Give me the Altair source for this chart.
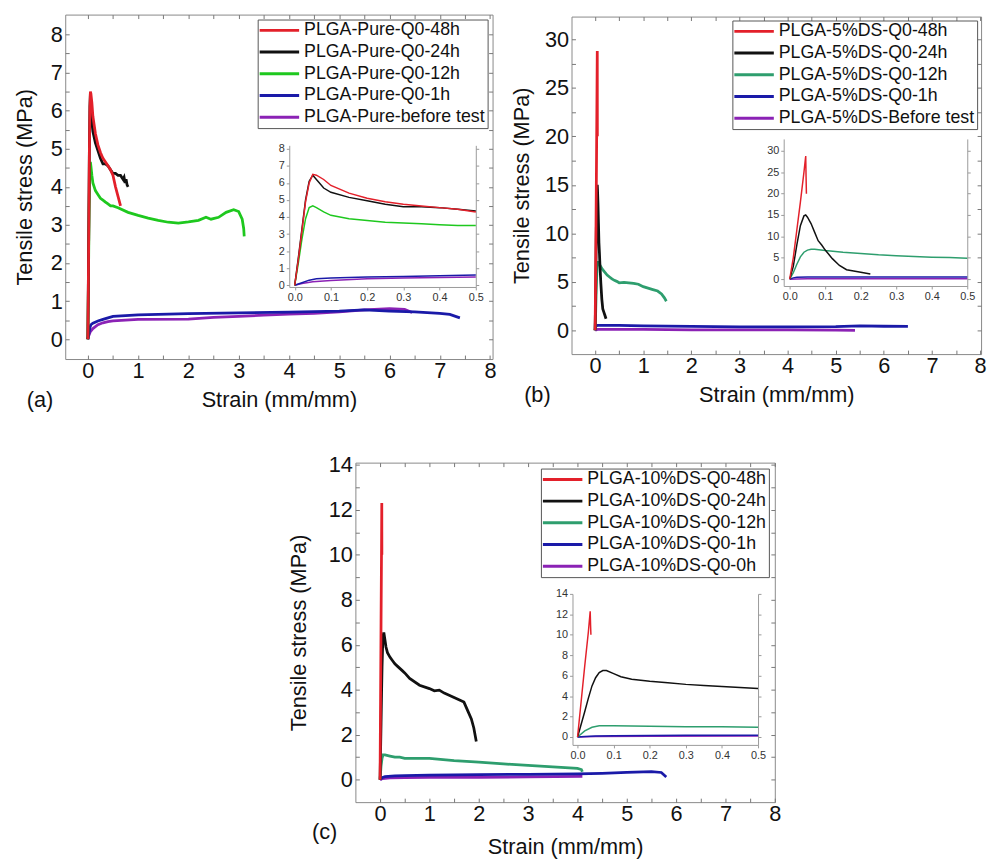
import altair as alt
import pandas as pd

FONT = "Liberation Sans"

# ---------------- Panel (a) ----------------
A_LABELS = ["PLGA-Pure-Q0-48h", "PLGA-Pure-Q0-24h", "PLGA-Pure-Q0-12h",
            "PLGA-Pure-Q0-1h", "PLGA-Pure-before test"]
A_COLORS = ["#e3202a", "#111111", "#1ec81e", "#1a1aa8", "#8b22b5"]

A48_X = [0, 0.01, 0.02, 0.03, 0.04, 0.05, 0.06, 0.08, 0.1, 0.15, 0.2, 0.25, 0.3,
         0.35, 0.4, 0.45, 0.5, 0.55, 0.6, 0.65]
A48_Y = [0, 1.5, 3.2, 4.9, 6.0, 6.5, 6.45, 6.2, 5.85, 5.4, 5.1, 4.9, 4.75,
         4.65, 4.55, 4.45, 4.3, 4.0, 3.75, 3.5]
A24_X = [0, 0.01, 0.02, 0.03, 0.04, 0.05, 0.06, 0.08, 0.1, 0.15, 0.2, 0.25, 0.3,
         0.35, 0.4, 0.45, 0.5, 0.55, 0.6, 0.65, 0.7, 0.72, 0.74, 0.76, 0.78, 0.8]
A24_Y = [0, 1.6, 3.3, 5.0, 6.1, 6.45, 6.2, 5.7, 5.45, 5.15, 4.95, 4.75, 4.6,
         4.6, 4.55, 4.45, 4.35, 4.35, 4.3, 4.3, 4.2, 4.25, 4.1, 4.2, 4.05, 4.0]
A12_X = [0, 0.01, 0.02, 0.03, 0.04, 0.05, 0.06, 0.08, 0.1, 0.15, 0.2, 0.25, 0.3,
         0.35, 0.4, 0.45, 0.5, 0.6, 0.8, 1.0, 1.2, 1.4, 1.6, 1.8, 2.0, 2.2, 2.35,
         2.45, 2.6, 2.75, 2.9, 3.0, 3.07, 3.1, 3.11]
A12_Y = [0, 1.3, 2.7, 3.9, 4.55, 4.65, 4.55, 4.3, 4.1, 3.9, 3.8, 3.7, 3.65,
         3.6, 3.55, 3.5, 3.5, 3.45, 3.33, 3.25, 3.18, 3.12, 3.07, 3.05, 3.08, 3.12, 3.2,
         3.15, 3.2, 3.33, 3.4, 3.35, 3.15, 2.9, 2.7]
A1_X = [0, 0.02, 0.04, 0.06, 0.1, 0.2, 0.3, 0.4, 0.5, 1.0, 2.0, 3.0, 4.0, 5.0,
        5.5, 6.0, 6.5, 7.0, 7.2, 7.4]
A1_Y = [0, 0.15, 0.3, 0.38, 0.42, 0.48, 0.52, 0.56, 0.6, 0.64, 0.67, 0.69, 0.71,
        0.74, 0.77, 0.74, 0.72, 0.68, 0.65, 0.56]
A0_X = [0, 0.02, 0.05, 0.1, 0.2, 0.3, 0.4, 0.5, 1.0, 2.0, 2.5, 3.0, 3.5, 4.0,
        4.5, 5.0, 5.5, 6.0, 6.3, 6.45]
A0_Y = [0, 0.1, 0.2, 0.28, 0.38, 0.43, 0.46, 0.48, 0.52, 0.53, 0.57, 0.6, 0.63,
        0.66, 0.68, 0.72, 0.77, 0.8, 0.78, 0.7]

# ---------------- Panel (b) ----------------
B_LABELS = ["PLGA-5%DS-Q0-48h", "PLGA-5%DS-Q0-24h", "PLGA-5%DS-Q0-12h",
            "PLGA-5%DS-Q0-1h", "PLGA-5%DS-Before test"]
B_COLORS = ["#e3202a", "#111111", "#2e9e6e", "#1a1aa8", "#8b22b5"]

B48_X = [0, 0.01, 0.02, 0.03, 0.04, 0.045, 0.046, 0.047]
B48_Y = [0, 5, 11.5, 18, 25, 28.8, 24, 20]
B24_X = [0, 0.01, 0.02, 0.03, 0.04, 0.045, 0.05, 0.06, 0.07, 0.08, 0.09, 0.1,
         0.12, 0.14, 0.16, 0.18, 0.2, 0.227]
B24_Y = [0, 3, 8, 12.5, 14.8, 15.0, 14.5, 13, 11, 9, 8, 6.8,
         4.8, 3.2, 2.2, 1.9, 1.6, 1.2]
B12_X = [0, 0.01, 0.02, 0.03, 0.04, 0.05, 0.06, 0.07, 0.1, 0.15, 0.2, 0.25, 0.3,
         0.35, 0.4, 0.45, 0.5, 0.6, 0.7, 0.8, 0.9, 1.0, 1.1, 1.2, 1.3, 1.38, 1.44, 1.48]
B12_Y = [0, 1.5, 3.5, 5.2, 6.3, 6.8, 7.0, 7.0, 6.7, 6.3, 6.0, 5.7, 5.5,
         5.3, 5.15, 5.05, 4.9, 4.95, 4.9, 4.85, 4.75, 4.5, 4.35, 4.2, 4.05, 3.75, 3.35, 3.0]
B1_X = [0, 0.01, 0.02, 0.05, 0.5, 1.0, 2.0, 3.0, 4.0, 5.0, 5.5, 6.0, 6.5]
B1_Y = [0, 0.3, 0.45, 0.5, 0.5, 0.45, 0.4, 0.35, 0.35, 0.38, 0.45, 0.42, 0.4]
B0_X = [0, 0.02, 0.05, 0.5, 1.0, 2.0, 3.0, 4.0, 5.0, 5.4]
B0_Y = [0, 0.05, 0.1, 0.1, 0.1, 0.05, 0.05, 0.05, 0.03, 0.0]

# ---------------- Panel (c) ----------------
C_LABELS = ["PLGA-10%DS-Q0-48h", "PLGA-10%DS-Q0-24h", "PLGA-10%DS-Q0-12h",
            "PLGA-10%DS-Q0-1h", "PLGA-10%DS-Q0-0h"]
C_COLORS = ["#e3202a", "#111111", "#2e9e6e", "#1a1aa8", "#8b22b5"]

C48_X = [0, 0.01, 0.02, 0.03, 0.035, 0.036, 0.037]
C48_Y = [0, 3.5, 7, 10.3, 12.3, 11, 10]
C24_X = [0, 0.02, 0.03, 0.04, 0.05, 0.06, 0.07, 0.08, 0.1, 0.12, 0.15, 0.2, 0.25,
         0.3, 0.35, 0.4, 0.45, 0.5, 0.6, 0.8, 1.0, 1.1, 1.2, 1.3, 1.4, 1.5, 1.6,
         1.7, 1.78, 1.85, 1.9, 1.95]
C24_Y = [0, 2.5, 3.8, 5.0, 5.8, 6.3, 6.5, 6.5, 6.2, 5.9, 5.65, 5.45, 5.3,
         5.15, 5.05, 4.95, 4.85, 4.75, 4.5, 4.2, 4.05, 3.95, 3.98, 3.85, 3.75, 3.65, 3.55,
         3.45, 3.05, 2.7, 2.3, 1.7]
C12_X = [0, 0.02, 0.04, 0.06, 0.1, 0.2, 0.3, 0.4, 0.5, 1.0, 1.5, 2.0, 2.5, 3.0,
         3.5, 4.0, 4.08, 4.1]
C12_Y = [0, 0.6, 0.95, 1.1, 1.1, 1.05, 1.0, 1.0, 0.95, 0.95, 0.85, 0.78, 0.7, 0.63,
         0.57, 0.5, 0.45, 0.35]
C1_X = [0, 0.02, 0.05, 0.1, 0.3, 0.5, 1.0, 2.0, 3.0, 4.0, 4.5, 5.0, 5.5, 5.7, 5.8]
C1_Y = [0, 0.05, 0.1, 0.13, 0.17, 0.18, 0.2, 0.22, 0.24, 0.26, 0.28, 0.32, 0.36, 0.32, 0.12]
C0_X = [0, 0.05, 0.2, 0.5, 1.0, 2.0, 3.0, 4.1]
C0_Y = [0, 0.05, 0.08, 0.09, 0.1, 0.1, 0.12, 0.15]

# minor (frame) tick positions
X_FRAME_TICKS = [0, 0.5, 1, 1.5, 2, 2.5, 3, 3.5, 4, 4.5, 5, 5.5, 6, 6.5, 7, 7.5, 8]
A_FRAME_YTICKS = [0, 0.5, 1, 1.5, 2, 2.5, 3, 3.5, 4, 4.5, 5, 5.5, 6, 6.5, 7, 7.5, 8]
B_FRAME_YTICKS = [0, 2.5, 5, 7.5, 10, 12.5, 15, 17.5, 20, 22.5, 25, 27.5, 30]
C_FRAME_YTICKS = [0, 1, 2, 3, 4, 5, 6, 7, 8, 9, 10, 11, 12, 13, 14]


def build_df(labels, xs_list, ys_list):
    frames = []
    for lab, xs, ys in zip(labels, xs_list, ys_list):
        frames.append(pd.DataFrame({"series": lab, "strain": xs, "stress": ys,
                                    "idx": list(range(len(xs)))}))
    # draw order: last legend entry first, first entry (red) on top
    return pd.concat(frames[::-1], ignore_index=True)


def legend_for(offset):
    return alt.Legend(title=None, orient="top-right", offset=offset,
                      symbolType="M-1.8,0H6.2", symbolSize=100, symbolStrokeWidth=3,
                      labelFont=FONT, labelFontSize=18, labelColor="#111",
                      labelOffset=27, padding=2, rowPadding=4,
                      strokeColor="#555", fillColor="white", labelLimit=400)


def inset_axis_common():
    return dict(grid=False, labelFontSize=11, labelColor="#333", domainColor="#999",
                tickColor="#999", tickSize=3, labelPadding=2, title=None)


def frame_tick_axis(orient, values):
    # axis drawn 4px inside the frame with outward ticks -> inward-looking frame ticks
    return alt.Axis(orient=orient, offset=-4, values=values, labels=False,
                    domain=False, grid=False, ticks=True, tickSize=4,
                    tickColor="#777", title=None)


def panel(df, labels, colors, W, H, xdom, ydom, yvals, yframe, ins, tag, tag_dx,
          tag_dy, leg_off, ytp, xtp):
    color = alt.Color("series:N", scale=alt.Scale(domain=labels, range=colors),
                      legend=legend_for(leg_off))
    xs_main = alt.Scale(domain=xdom, nice=False, zero=False)
    ys_main = alt.Scale(domain=ydom, nice=False, zero=False)

    ticks_bl = alt.Chart(df).mark_line(opacity=0).encode(
        x=alt.X("strain:Q", scale=xs_main, axis=frame_tick_axis("bottom", X_FRAME_TICKS)),
        y=alt.Y("stress:Q", scale=ys_main, axis=frame_tick_axis("left", yframe)),
    )
    ticks_tr = alt.Chart(df).mark_line(opacity=0).encode(
        x=alt.X("strain:Q", scale=xs_main, axis=frame_tick_axis("top", X_FRAME_TICKS)),
        y=alt.Y("stress:Q", scale=ys_main, axis=frame_tick_axis("right", yframe)),
    )
    main = alt.Chart(df).mark_line(strokeWidth=2.8, clip=True).encode(
        x=alt.X("strain:Q", scale=xs_main,
                axis=alt.Axis(values=list(range(0, 9)), title="Strain (mm/mm)",
                              grid=False, domain=False, ticks=False, labelFontSize=22,
                              titleFontSize=22, labelPadding=2, titlePadding=xtp,
                              labelFlush=False, format="d")),
        y=alt.Y("stress:Q", scale=ys_main,
                axis=alt.Axis(values=yvals, title="Tensile stress (MPa)", grid=False,
                              domain=False, ticks=False, labelFontSize=22,
                              titleFontSize=22, labelPadding=3, titlePadding=ytp,
                              format="d")),
        color=color,
        order="idx:Q",
    )
    inset_base = alt.Chart(df).transform_filter(alt.datum.strain <= 0.5)
    xs_ins = alt.Scale(domain=ins["xdom"], range=ins["xrange"], nice=False, zero=False)
    ys_ins = alt.Scale(domain=ins["ydom"], range=ins["yrange"], nice=False, zero=False)
    inset = inset_base.mark_line(strokeWidth=1.5).encode(
        x=alt.X("strain:Q", scale=xs_ins,
                axis=alt.Axis(orient="bottom", offset=ins["xoff"],
                              values=[0, 0.1, 0.2, 0.3, 0.4, 0.5], format=".1f",
                              labelFlush=False, **inset_axis_common())),
        y=alt.Y("stress:Q", scale=ys_ins,
                axis=alt.Axis(orient="left", offset=ins["yoff"], values=ins["yvals"],
                              format="d", **inset_axis_common())),
        color=color,
        order="idx:Q",
    )
    # right-hand border of the inset frame
    inset_right = inset_base.mark_line(opacity=0).encode(
        x=alt.X("strain:Q", scale=xs_ins, axis=None),
        y=alt.Y("stress:Q", scale=ys_ins,
                axis=alt.Axis(orient="right", offset=ins["xrange"][1] - W,
                              values=ins["yvals"], labels=False, **inset_axis_common())),
    )
    return alt.layer(main, ticks_bl, ticks_tr, inset, inset_right).resolve_scale(
        x="independent", y="independent").properties(
        width=W, height=H,
        title=alt.TitleParams(tag, orient="bottom", anchor="start", frame="group",
                              dx=tag_dx, dy=tag_dy, fontSize=22, font=FONT,
                              fontWeight="normal", color="#111"))


def spacer(w, h):
    return alt.Chart(pd.DataFrame({"v": [0]})).mark_point(size=0, opacity=0).encode(
        x=alt.X("v:Q", axis=None), y=alt.Y("v:Q", axis=None)
    ).properties(width=w, height=h, view=alt.ViewBackground(strokeOpacity=0))


dfA = build_df(A_LABELS, [A48_X, A24_X, A12_X, A1_X, A0_X],
               [A48_Y, A24_Y, A12_Y, A1_Y, A0_Y])
dfB = build_df(B_LABELS, [B48_X, B24_X, B12_X, B1_X, B0_X],
               [B48_Y, B24_Y, B12_Y, B1_Y, B0_Y])
dfC = build_df(C_LABELS, [C48_X, C24_X, C12_X, C1_X, C0_X],
               [C48_Y, C24_Y, C12_Y, C1_Y, C0_Y])

insA = dict(xdom=[-0.015, 0.5], xrange=[227, 416], xoff=-73,
            ydom=[-0.1, 8.2], yrange=[276, 132.5], yoff=-227,
            yvals=list(range(0, 9)))
insB = dict(xdom=[-0.017, 0.5], xrange=[215, 401], xoff=-69,
            ydom=[-1.6, 32.8], yrange=[273, 124], yoff=-215,
            yvals=[0, 5, 10, 15, 20, 25, 30])
insC = dict(xdom=[-0.014, 0.5], xrange=[220, 408], xoff=-58,
            ydom=[-0.77, 14], yrange=[286, 133], yoff=-220,
            yvals=[0, 2, 4, 6, 8, 10, 12, 14])

A = panel(dfA, A_LABELS, A_COLORS, 433, 349, [-0.45, 8.05], [-0.52, 8.52],
          list(range(0, 9)), A_FRAME_YTICKS, insA, "(a)", -39, -24, 5, 14, 8)
B = panel(dfB, B_LABELS, B_COLORS, 415, 342, [-0.49, 8.02], [-2.45, 32.35],
          [0, 5, 10, 15, 20, 25, 30], B_FRAME_YTICKS, insB, "(b)", -48, -24, 4, 11, 8)
C = panel(dfC, C_LABELS, C_COLORS, 425, 344, [-0.5, 8.0], [-1.0, 14.1],
          [0, 2, 4, 6, 8, 10, 12, 14], C_FRAME_YTICKS, insC, "(c)", -44, -40, 6, 18, 12)

Bcol = alt.vconcat(spacer(10, 1), B, spacing=0).resolve_scale(
    color="independent", x="independent", y="independent")
row1 = alt.hconcat(A, Bcol, spacing=13).resolve_scale(
    color="independent", x="independent", y="independent")
row2 = alt.hconcat(spacer(225, 10), C, spacing=0).resolve_scale(
    color="independent", x="independent", y="independent")

chart = alt.vconcat(row1, row2, spacing=41).resolve_scale(
    color="independent", x="independent", y="independent"
).properties(
    padding={"left": 5, "top": 0, "right": 0, "bottom": 0}
).configure(background="white").configure_view(
    stroke="#888", strokeWidth=1
).configure_axis(
    labelFont=FONT, titleFont=FONT, labelColor="#111", titleColor="#111",
    titleFontWeight="normal"
)

chart.save("out.html", embed_options={"renderer": "svg", "actions": False})
